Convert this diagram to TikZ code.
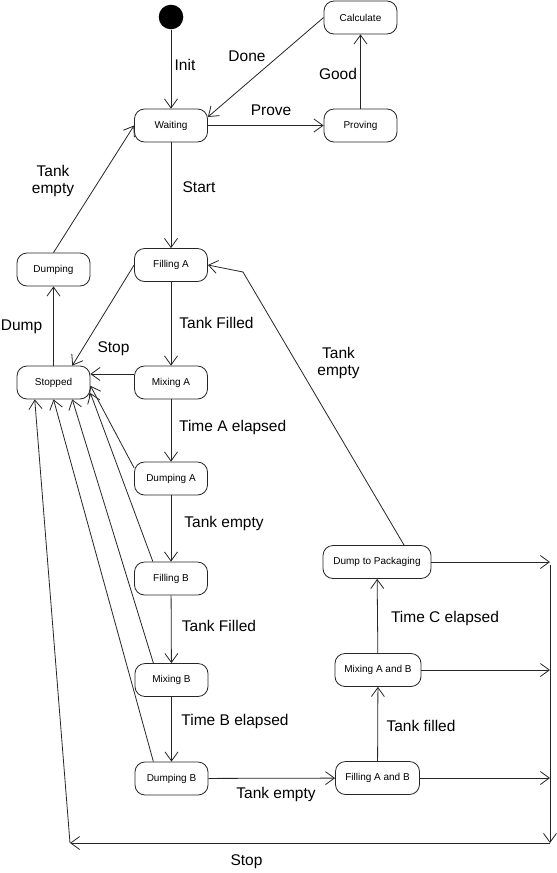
\documentclass[tikz,border=0pt]{standalone}
\usepackage{fontspec}
\setmainfont{Liberation Sans}
\usepackage{tikz}
\usetikzlibrary{arrows.meta}

\begin{document}
\begin{tikzpicture}[x=1pt,y=-1pt,
  state/.style={draw=black!85,line width=0.8pt,rounded corners=10pt,minimum width=73pt,minimum height=33pt,inner sep=2pt,font=\fontsize{10}{12}\selectfont},
  trans/.style={draw=black!85,line width=0.8pt,-{Straight Barb[length=9pt,width=13pt,line width=0.8pt]}},
  lbl/.style={font=\fontsize{15.5}{17}\selectfont,align=center,inner sep=0pt}]
 \useasboundingbox[fill=white] (0,0) rectangle (557,873);

 \node[circle,fill=black,minimum size=24.6pt,inner sep=0pt] (init) at (171,17) {};
 \node[state] (calc) at (360.5,17.5) {Calculate};
 \node[state] (wait) at (171,125.5) {Waiting};
 \node[state] (prove) at (360.5,125.5) {Proving};
 \node[state] (dump) at (53.5,269.5) {Dumping};
 \node[state] (fillA) at (171,265) {Filling A};
 \node[state] (stop) at (53.5,382.5) {Stopped};
 \node[state] (mixA) at (171,382.5) {Mixing A};
 \node[state] (dumpA) at (171,478.5) {Dumping A};
 \node[state] (fillB) at (171,578.5) {Filling B};
 \node[state] (mixB) at (171.5,680) {Mixing B};
 \node[state] (dumpB) at (171.5,778.5) {Dumping B};
 \node[state,minimum width=84pt] (fillAB) at (377.5,778) {Filling A and B};
 \node[state,minimum width=86pt] (mixAB) at (378,670) {Mixing A and B};
 \node[state,minimum width=108pt] (pack) at (377,562) {Dump to Packaging};

 %%%%%%%%%%%%%%%%%%%%%%%%%%%%%%%%%%%
 \draw[trans] (init) -- (wait);
 \draw[trans] (calc.west) -- (wait.13);
 \draw[trans] (wait) -- (prove);
 \draw[trans] (prove) -- (calc);
 \draw[trans] (wait) -- (fillA);
 \draw[trans] (dump.north) -- (wait.west);
 \draw[trans] (stop) -- (dump);
 \draw[trans] (fillA) -- (mixA);
 \draw[trans] (mixA) -- (dumpA);
 \draw[trans] (dumpA) -- (fillB);
 \draw[trans] (fillB) -- (mixB);
 \draw[trans] (mixB) -- (dumpB);
 \draw[trans] (dumpB) -- (fillAB);
 \draw[trans] (fillAB) -- (mixAB);
 \draw[trans] (mixAB) -- (pack);
 \coordinate (bend) at (243,272);
 \draw[trans] (pack.32) -- (bend) -- (fillA.east);

 %% everything to Stopped
 \draw[trans] (fillA.west) -- (stop.42);
 \draw[trans] (mixA.167) -- (mixA.167 -| stop.east);
 \draw[trans] (dumpA.164) -- (stop.-5);
 \draw[trans] (fillB.137) -- (stop.-16);
 \draw[trans] (mixB.137) -- (stop.-42);
 \draw[trans] (dumpB.137) -- (stop.south);

 \coordinate (ne) at (550,565);
 \coordinate (se) at (550,843);
 \coordinate (sw) at (70,843);
 \draw[trans] (pack.east) -- (pack.east -| ne);
 \draw[trans] (mixAB.east) -- (mixAB.east -| ne);
 \draw[trans] (fillAB.east) -- (fillAB.east -| ne);
 \draw[trans] (ne) -- (se);
 \draw[trans] (se) -- (sw);
 \draw[trans] (sw) -- (stop.-138);

 %% labels
 \node[lbl] (lInit) at (185,65) {Init};
 \node[lbl] (lDone) at (247,56) {Done};
 \node[lbl] (lProve) at (271,110) {Prove};
 \node[lbl] (lGood) at (338,74) {Good};
 \node[lbl] (lStart) at (199,187) {Start};
 \node[lbl] (lEmpty1) at (53,181) {Tank\\empty};
 \node[lbl] (lDump) at (21.5,327) {Dump};
 \node[lbl] (lStop1) at (113.5,349) {Stop};
 \node[lbl] (lFilled1) at (216.5,323) {Tank Filled};
 \node[lbl] (lTimeA) at (232.7,427) {Time A elapsed};
 \node[lbl] (lEmpty2) at (224,523) {Tank empty};
 \node[lbl] (lFilled2) at (219,626) {Tank Filled};
 \node[lbl] (lTimeB) at (235,721) {Time B elapsed};
 \node[lbl] (lEmpty3) at (276,794) {Tank empty};
 \node[lbl] (lFilled3) at (421,726) {Tank filled};
 \node[lbl] (lTimeC) at (445,618) {Time C elapsed};
 \node[lbl] (lEmpty4) at (338.5,363) {Tank\\empty};
 \node[lbl] (lStop2) at (246.5,862) {Stop};
\end{tikzpicture}
\end{document}
